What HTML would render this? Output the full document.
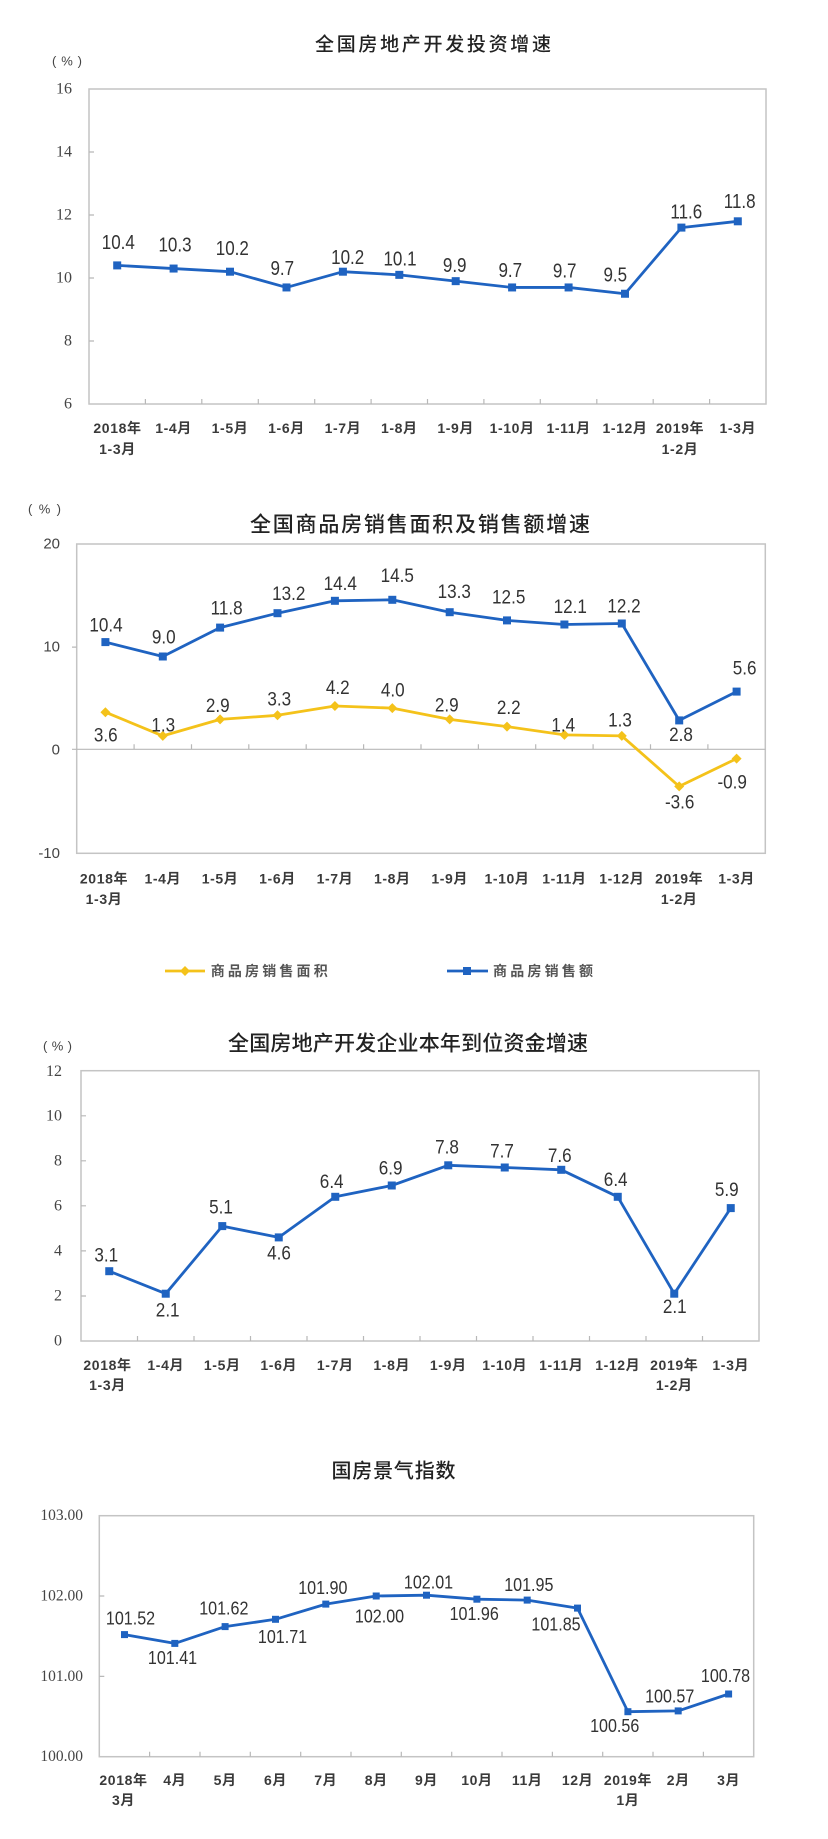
<!DOCTYPE html>
<html><head><meta charset="utf-8">
<style>
html,body{margin:0;padding:0;background:#fff;}
svg{display:block;}
text{font-family:"Liberation Sans","Noto Sans CJK SC",sans-serif;}
.ttl{font-size:20px;fill:#222;text-anchor:middle;dominant-baseline:central;font-weight:500;}
.pct{font-size:13px;fill:#444;text-anchor:start;dominant-baseline:central;}
.ys{font-family:"Liberation Serif","Noto Serif CJK SC",serif;font-size:16px;fill:#444;text-anchor:end;dominant-baseline:central;}
.ya{font-size:15px;fill:#444;text-anchor:end;dominant-baseline:central;}
.xl{font-size:14px;font-weight:bold;fill:#3a3a3a;text-anchor:middle;dominant-baseline:central;letter-spacing:0.6px;}
.d{fill:#333;text-anchor:middle;dominant-baseline:central;transform-box:fill-box;transform-origin:center;}
.d1{font-size:20px;transform:scaleX(0.85);}
.d2{font-size:19px;transform:scaleX(0.9);}
.d4{font-size:18.5px;transform:scaleX(0.87);}
.lg{font-size:14px;fill:#555;dominant-baseline:central;font-weight:bold;}
.box{fill:none;stroke:#c4c4c4;stroke-width:1.5;}
.tk{fill:none;stroke:#b8b8b8;stroke-width:1.2;}
.bl{fill:none;stroke:#1f63c1;stroke-width:2.8;stroke-linejoin:round;}
.yl{fill:none;stroke:#f4c21a;stroke-width:2.8;stroke-linejoin:round;}
.bm{fill:#1f63c1;}
.ym{fill:#f4c21a;}
</style></head>
<body>
<svg width="828" height="1839" viewBox="0 0 828 1839" xmlns="http://www.w3.org/2000/svg">
<rect width="828" height="1839" fill="#fff"/>

<!-- ================= CHART 1 ================= -->
<text class="ttl" x="433" y="45" style="font-size:19px" textLength="236" lengthAdjust="spacing">全国房地产开发投资增速</text>
<text class="pct" x="52" y="61" textLength="30" lengthAdjust="spacing">(%)</text>
<rect class="box" x="89" y="89" width="677" height="315"/>
<path class="tk" d="M145.4 404v-5M201.8 404v-5M258.3 404v-5M314.7 404v-5M371.1 404v-5M427.5 404v-5M483.9 404v-5M540.3 404v-5M596.8 404v-5M653.2 404v-5M709.6 404v-5M89 152h5M89 215h5M89 278h5M89 341h5"/>
<text class="ys" x="72" y="89">16</text>
<text class="ys" x="72" y="152">14</text>
<text class="ys" x="72" y="215">12</text>
<text class="ys" x="72" y="278">10</text>
<text class="ys" x="72" y="341">8</text>
<text class="ys" x="72" y="404">6</text>
<polyline class="bl" points="117.2,265.4 173.6,268.55 230,271.7 286.5,287.45 342.9,271.7 399.3,274.85 455.7,281.15 512.1,287.45 568.6,287.45 625,293.75 681.4,227.6 737.8,221.3"/>
<g class="bm">
<rect x="113.2" y="261.4" width="8" height="8"/><rect x="169.6" y="264.55" width="8" height="8"/><rect x="226" y="267.7" width="8" height="8"/><rect x="282.5" y="283.45" width="8" height="8"/><rect x="338.9" y="267.7" width="8" height="8"/><rect x="395.3" y="270.85" width="8" height="8"/><rect x="451.7" y="277.15" width="8" height="8"/><rect x="508.1" y="283.45" width="8" height="8"/><rect x="564.6" y="283.45" width="8" height="8"/><rect x="621" y="289.75" width="8" height="8"/><rect x="677.4" y="223.6" width="8" height="8"/><rect x="733.8" y="217.3" width="8" height="8"/>
</g>
<text class="d d1" x="118.3" y="242">10.4</text>
<text class="d d1" x="175" y="244.5">10.3</text>
<text class="d d1" x="232.3" y="248">10.2</text>
<text class="d d1" x="282.3" y="268">9.7</text>
<text class="d d1" x="347.7" y="257">10.2</text>
<text class="d d1" x="400" y="258.7">10.1</text>
<text class="d d1" x="454.7" y="265">9.9</text>
<text class="d d1" x="510.3" y="270">9.7</text>
<text class="d d1" x="564.7" y="270.5">9.7</text>
<text class="d d1" x="615.3" y="274.3">9.5</text>
<text class="d d1" x="686.3" y="211.7">11.6</text>
<text class="d d1" x="739.7" y="201.2">11.8</text>
<text class="xl" x="117.5" y="428">2018年</text>
<text class="xl" x="117.5" y="449">1-3月</text>
<text class="xl" x="173.6" y="428">1-4月</text>
<text class="xl" x="230" y="428">1-5月</text>
<text class="xl" x="286.5" y="428">1-6月</text>
<text class="xl" x="342.9" y="428">1-7月</text>
<text class="xl" x="399.3" y="428">1-8月</text>
<text class="xl" x="455.7" y="428">1-9月</text>
<text class="xl" x="512.1" y="428">1-10月</text>
<text class="xl" x="568.6" y="428">1-11月</text>
<text class="xl" x="625" y="428">1-12月</text>
<text class="xl" x="680" y="428">2019年</text>
<text class="xl" x="680" y="449">1-2月</text>
<text class="xl" x="737.8" y="428">1-3月</text>

<!-- ================= CHART 2 ================= -->
<text class="ttl" x="420" y="525" style="font-size:21px" textLength="340" lengthAdjust="spacing">全国商品房销售面积及销售额增速</text>
<text class="pct" x="28" y="509" textLength="33" lengthAdjust="spacing">(%)</text>
<rect class="box" x="76.7" y="544" width="688.6" height="309.3"/>
<path class="tk" d="M76.7 749.3H765.3"/>
<path class="tk" d="M134.1 749.3v-5M191.5 749.3v-5M248.8 749.3v-5M306.2 749.3v-5M363.6 749.3v-5M421 749.3v-5M478.4 749.3v-5M535.7 749.3v-5M593.1 749.3v-5M650.5 749.3v-5M707.9 749.3v-5M72 647.1h4.7M72 749.3h4.7"/>
<text class="ya" x="60" y="544">20</text>
<text class="ya" x="60" y="647.1">10</text>
<text class="ya" x="60" y="750.2">0</text>
<text class="ya" x="60" y="853.3">-10</text>
<polyline class="bl" points="105.4,642.1 162.8,656.5 220.1,627.6 277.5,613.2 334.9,600.8 392.3,599.8 449.7,612.2 507,620.4 564.4,624.5 621.8,623.5 679.2,720.4 736.6,691.6"/>
<polyline class="yl" points="105.4,712.2 162.8,735.9 220.1,719.4 277.5,715.3 334.9,706 392.3,708.1 449.7,719.4 507,726.6 564.4,734.9 621.8,735.9 679.2,786.4 736.6,758.6"/>
<g class="bm">
<rect x="101.4" y="638.1" width="8" height="8"/><rect x="158.8" y="652.5" width="8" height="8"/><rect x="216.1" y="623.6" width="8" height="8"/><rect x="273.5" y="609.2" width="8" height="8"/><rect x="330.9" y="596.8" width="8" height="8"/><rect x="388.3" y="595.8" width="8" height="8"/><rect x="445.7" y="608.2" width="8" height="8"/><rect x="503" y="616.4" width="8" height="8"/><rect x="560.4" y="620.5" width="8" height="8"/><rect x="617.8" y="619.5" width="8" height="8"/><rect x="675.2" y="716.4" width="8" height="8"/><rect x="732.6" y="687.6" width="8" height="8"/>
</g>
<g class="ym">
<path d="M105.4 707.2l5 5l-5 5l-5 -5z"/><path d="M162.8 730.9l5 5l-5 5l-5 -5z"/><path d="M220.1 714.4l5 5l-5 5l-5 -5z"/><path d="M277.5 710.3l5 5l-5 5l-5 -5z"/><path d="M334.9 701l5 5l-5 5l-5 -5z"/><path d="M392.3 703.1l5 5l-5 5l-5 -5z"/><path d="M449.7 714.4l5 5l-5 5l-5 -5z"/><path d="M507 721.6l5 5l-5 5l-5 -5z"/><path d="M564.4 729.9l5 5l-5 5l-5 -5z"/><path d="M621.8 730.9l5 5l-5 5l-5 -5z"/><path d="M679.2 781.4l5 5l-5 5l-5 -5z"/><path d="M736.6 753.6l5 5l-5 5l-5 -5z"/>
</g>
<text class="d d2" x="106" y="625">10.4</text>
<text class="d d2" x="163.8" y="637.3">9.0</text>
<text class="d d2" x="226.7" y="608.3">11.8</text>
<text class="d d2" x="288.8" y="593.7">13.2</text>
<text class="d d2" x="340.3" y="583.7">14.4</text>
<text class="d d2" x="397.3" y="575.5">14.5</text>
<text class="d d2" x="454.3" y="591.7">13.3</text>
<text class="d d2" x="508.7" y="597">12.5</text>
<text class="d d2" x="570.2" y="606.7">12.1</text>
<text class="d d2" x="624" y="606">12.2</text>
<text class="d d2" x="681" y="734.5">2.8</text>
<text class="d d2" x="744.7" y="668.3">5.6</text>
<text class="d d2" x="105.8" y="735">3.6</text>
<text class="d d2" x="163.3" y="725">1.3</text>
<text class="d d2" x="217.8" y="705.8">2.9</text>
<text class="d d2" x="279.2" y="699.2">3.3</text>
<text class="d d2" x="337.8" y="687.8">4.2</text>
<text class="d d2" x="392.8" y="690.3">4.0</text>
<text class="d d2" x="446.8" y="705">2.9</text>
<text class="d d2" x="508.8" y="707.8">2.2</text>
<text class="d d2" x="563.3" y="725">1.4</text>
<text class="d d2" x="620" y="720.3">1.3</text>
<text class="d d2" x="679.7" y="802.2">-3.6</text>
<text class="d d2" x="732.2" y="782.2">-0.9</text>
<text class="xl" x="104" y="878.3">2018年</text>
<text class="xl" x="104" y="899">1-3月</text>
<text class="xl" x="162.8" y="878.3">1-4月</text>
<text class="xl" x="220.1" y="878.3">1-5月</text>
<text class="xl" x="277.5" y="878.3">1-6月</text>
<text class="xl" x="334.9" y="878.3">1-7月</text>
<text class="xl" x="392.3" y="878.3">1-8月</text>
<text class="xl" x="449.7" y="878.3">1-9月</text>
<text class="xl" x="507" y="878.3">1-10月</text>
<text class="xl" x="564.4" y="878.3">1-11月</text>
<text class="xl" x="621.8" y="878.3">1-12月</text>
<text class="xl" x="679.2" y="878.3">2019年</text>
<text class="xl" x="679.2" y="899">1-2月</text>
<text class="xl" x="736.6" y="878.3">1-3月</text>

<!-- legend -->
<path d="M165 971H205" stroke="#f4c21a" stroke-width="2.8"/>
<path class="ym" d="M185 966l5 5l-5 5l-5 -5z"/>
<text class="lg" x="210.7" y="971" textLength="117" lengthAdjust="spacing">商品房销售面积</text>
<path d="M447 971H488" stroke="#1f63c1" stroke-width="2.8"/>
<rect class="bm" x="463" y="967" width="8" height="8"/>
<text class="lg" x="493" y="971" textLength="100" lengthAdjust="spacing">商品房销售额</text>

<!-- ================= CHART 3 ================= -->
<text class="ttl" x="408" y="1044" style="font-size:21px" textLength="360" lengthAdjust="spacing">全国房地产开发企业本年到位资金增速</text>
<text class="pct" x="43" y="1046" textLength="29" lengthAdjust="spacing">(%)</text>
<rect class="box" x="81" y="1070.7" width="678" height="270.3"/>
<path class="tk" d="M137.5 1341v-5M194 1341v-5M250.5 1341v-5M307 1341v-5M363.5 1341v-5M420 1341v-5M476.5 1341v-5M533 1341v-5M589.5 1341v-5M646 1341v-5M702.5 1341v-5M81 1115.8h5M81 1160.8h5M81 1205.8h5M81 1250.9h5M81 1296h5"/>
<text class="ys" x="62" y="1071.5">12</text>
<text class="ys" x="62" y="1115.8">10</text>
<text class="ys" x="62" y="1160.8">8</text>
<text class="ys" x="62" y="1205.8">6</text>
<text class="ys" x="62" y="1250.9">4</text>
<text class="ys" x="62" y="1296">2</text>
<text class="ys" x="62" y="1341">0</text>
<polyline class="bl" points="109.25,1271.2 165.75,1293.7 222.25,1226.1 278.75,1237.4 335.25,1196.8 391.75,1185.5 448.25,1165.3 504.75,1167.5 561.25,1169.8 617.75,1196.8 674.25,1293.7 730.75,1208.1"/>
<g class="bm">
<rect x="105.25" y="1267.2" width="8" height="8"/><rect x="161.75" y="1289.7" width="8" height="8"/><rect x="218.25" y="1222.1" width="8" height="8"/><rect x="274.75" y="1233.4" width="8" height="8"/><rect x="331.25" y="1192.8" width="8" height="8"/><rect x="387.75" y="1181.5" width="8" height="8"/><rect x="444.25" y="1161.3" width="8" height="8"/><rect x="500.75" y="1163.5" width="8" height="8"/><rect x="557.25" y="1165.8" width="8" height="8"/><rect x="613.75" y="1192.8" width="8" height="8"/><rect x="670.25" y="1289.7" width="8" height="8"/><rect x="726.75" y="1204.1" width="8" height="8"/>
</g>
<text class="d d2" x="106.3" y="1255">3.1</text>
<text class="d d2" x="167.7" y="1310.3">2.1</text>
<text class="d d2" x="221" y="1207.3">5.1</text>
<text class="d d2" x="279" y="1253.3">4.6</text>
<text class="d d2" x="331.7" y="1181.7">6.4</text>
<text class="d d2" x="390.7" y="1168.3">6.9</text>
<text class="d d2" x="447" y="1147">7.8</text>
<text class="d d2" x="502" y="1151.2">7.7</text>
<text class="d d2" x="559.7" y="1155.5">7.6</text>
<text class="d d2" x="615.7" y="1179.7">6.4</text>
<text class="d d2" x="674.7" y="1306.7">2.1</text>
<text class="d d2" x="726.7" y="1189.7">5.9</text>
<text class="xl" x="107.5" y="1365">2018年</text>
<text class="xl" x="107.5" y="1385">1-3月</text>
<text class="xl" x="165.75" y="1365">1-4月</text>
<text class="xl" x="222.25" y="1365">1-5月</text>
<text class="xl" x="278.75" y="1365">1-6月</text>
<text class="xl" x="335.25" y="1365">1-7月</text>
<text class="xl" x="391.75" y="1365">1-8月</text>
<text class="xl" x="448.25" y="1365">1-9月</text>
<text class="xl" x="504.75" y="1365">1-10月</text>
<text class="xl" x="561.25" y="1365">1-11月</text>
<text class="xl" x="617.75" y="1365">1-12月</text>
<text class="xl" x="674.25" y="1365">2019年</text>
<text class="xl" x="674.25" y="1385">1-2月</text>
<text class="xl" x="730.75" y="1365">1-3月</text>

<!-- ================= CHART 4 ================= -->
<text class="ttl" x="393.5" y="1471.7" style="font-size:20px" textLength="124" lengthAdjust="spacing">国房景气指数</text>
<rect class="box" x="99.3" y="1515.7" width="654.4" height="241"/>
<path class="tk" d="M149.6 1756.7v-5M200 1756.7v-5M250.3 1756.7v-5M300.7 1756.7v-5M351 1756.7v-5M401.3 1756.7v-5M451.7 1756.7v-5M502 1756.7v-5M552.4 1756.7v-5M602.7 1756.7v-5M653 1756.7v-5M703.4 1756.7v-5M99.3 1596h5M99.3 1676.4h5"/>
<text class="ys" x="83" y="1515.7" style="font-size:15.5px">103.00</text>
<text class="ys" x="83" y="1596" style="font-size:15.5px">102.00</text>
<text class="ys" x="83" y="1676.4" style="font-size:15.5px">101.00</text>
<text class="ys" x="83" y="1756.7" style="font-size:15.5px">100.00</text>
<polyline class="bl" points="124.5,1634.6 174.8,1643.4 225.1,1626.6 275.5,1619.3 325.8,1604.1 376.2,1596 426.5,1595.2 476.9,1599.2 527.2,1600.1 577.5,1608.1 627.9,1711.7 678.2,1710.9 728.6,1694"/>
<g class="bm">
<rect x="121" y="1631.1" width="7" height="7"/><rect x="171.3" y="1639.9" width="7" height="7"/><rect x="221.6" y="1623.1" width="7" height="7"/><rect x="272" y="1615.8" width="7" height="7"/><rect x="322.3" y="1600.6" width="7" height="7"/><rect x="372.7" y="1592.5" width="7" height="7"/><rect x="423" y="1591.7" width="7" height="7"/><rect x="473.4" y="1595.7" width="7" height="7"/><rect x="523.7" y="1596.6" width="7" height="7"/><rect x="574" y="1604.6" width="7" height="7"/><rect x="624.4" y="1708.2" width="7" height="7"/><rect x="674.7" y="1707.4" width="7" height="7"/><rect x="725.1" y="1690.5" width="7" height="7"/>
</g>
<text class="d d4" x="130.5" y="1618.3">101.52</text>
<text class="d d4" x="172.5" y="1657.8">101.41</text>
<text class="d d4" x="223.8" y="1608">101.62</text>
<text class="d d4" x="282.5" y="1636.7">101.71</text>
<text class="d d4" x="322.8" y="1587.8">101.90</text>
<text class="d d4" x="379.5" y="1616.3">102.00</text>
<text class="d d4" x="428.5" y="1582.2">102.01</text>
<text class="d d4" x="474.2" y="1613.7">101.96</text>
<text class="d d4" x="528.8" y="1584.5">101.95</text>
<text class="d d4" x="556" y="1624.2">101.85</text>
<text class="d d4" x="614.7" y="1725.5">100.56</text>
<text class="d d4" x="669.7" y="1696.3">100.57</text>
<text class="d d4" x="725.5" y="1675.5">100.78</text>
<text class="xl" x="123.5" y="1780">2018年</text>
<text class="xl" x="123.5" y="1800">3月</text>
<text class="xl" x="174.8" y="1780">4月</text>
<text class="xl" x="225.1" y="1780">5月</text>
<text class="xl" x="275.5" y="1780">6月</text>
<text class="xl" x="325.8" y="1780">7月</text>
<text class="xl" x="376.2" y="1780">8月</text>
<text class="xl" x="426.5" y="1780">9月</text>
<text class="xl" x="476.9" y="1780">10月</text>
<text class="xl" x="527.2" y="1780">11月</text>
<text class="xl" x="577.5" y="1780">12月</text>
<text class="xl" x="627.9" y="1780">2019年</text>
<text class="xl" x="627.9" y="1800">1月</text>
<text class="xl" x="678.2" y="1780">2月</text>
<text class="xl" x="728.6" y="1780">3月</text>
</svg>
</body></html>
